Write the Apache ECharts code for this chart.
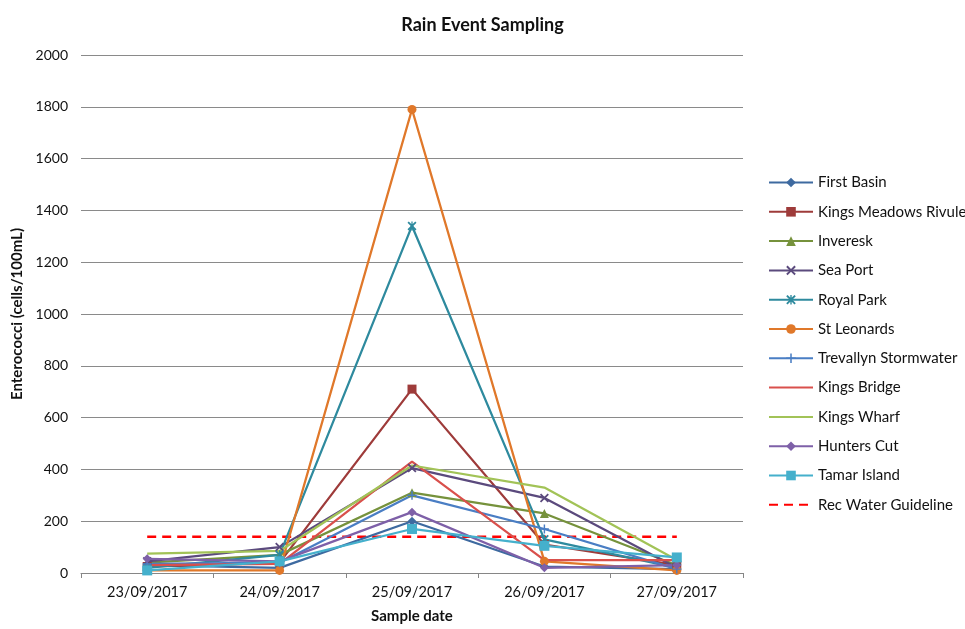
<!DOCTYPE html>
<html>
<head>
<meta charset="utf-8">
<script src="https://cdn.jsdelivr.net/npm/echarts@6/dist/echarts.min.js"></script>
<style>
  html, body { margin: 0; padding: 0; background: #fff; }
  #chart { width: 965px; height: 629px; }
</style>
</head>
<body>
<div id="chart"></div>
<script>
// Sampling dates
const dates = ['23/09/2017', '24/09/2017', '25/09/2017', '26/09/2017', '27/09/2017'];

// Enterococci counts (cells/100mL) per site
const firstBasin        = [30, 20, 200, 25, 15];
const kingsMeadows      = [25, 40, 710, 110, 30];
const inveresk          = [40, 70, 310, 230, 30];
const seaPort           = [45, 100, 405, 290, 20];
const royalPark         = [20, 70, 1340, 130, 20];
const stLeonards        = [10, 10, 1790, 45, 10];
const trevallyn         = [35, 40, 300, 170, 15];
const kingsBridge       = [30, 35, 430, 50, 50];
const kingsWharf        = [75, 85, 415, 330, 50];
const huntersCut        = [55, 45, 235, 20, 30];
const tamarIsland       = [10, 45, 170, 105, 60];
const recWaterGuideline = [140, 140, 140, 140, 140];

// Y axis ticks
const yMin = 0, yMax = 2000, yStep = 200;

const FONT = 'Lato, "Open Sans", sans-serif';

const xSym = 'path://M0,1.4 L1.4,0 L5,3.6 L8.6,0 L10,1.4 L6.4,5 L10,8.6 L8.6,10 L5,6.4 L1.4,10 L0,8.6 L3.6,5 Z';
const plusSym = 'path://M4.2,0 H5.8 V4.2 H10 V5.8 H5.8 V10 H4.2 V5.8 H0 V4.2 H4.2 Z';
const starSym = 'path://M0,1.4 L1.4,0 L5,3.6 L8.6,0 L10,1.4 L6.4,5 L10,8.6 L8.6,10 L5,6.4 L1.4,10 L0,8.6 L3.6,5 Z M4.3,0 H5.7 V10 H4.3 Z';

function site(name, data, color, symbol, size) {
  return {
    name: name,
    type: 'line',
    data: data,
    symbol: symbol,
    symbolSize: size,
    showSymbol: symbol !== 'none',
    lineStyle: { color: color, width: 2.25 },
    itemStyle: { color: color },
    emphasis: { disabled: true },
    z: 3
  };
}

const series = [
  site('First Basin', firstBasin, '#3E6AA0', 'diamond', 9),
  site('Kings Meadows Rivulet', kingsMeadows, '#9E3B3A', 'rect', 9),
  site('Inveresk', inveresk, '#76923C', 'triangle', 9),
  site('Sea Port', seaPort, '#5B4A7D', xSym, 9),
  site('Royal Park', royalPark, '#2E8A9E', starSym, 9),
  site('St Leonards', stLeonards, '#E0782A', 'circle', 9),
  site('Trevallyn Stormwater', trevallyn, '#4A7EC4', plusSym, 9),
  site('Kings Bridge', kingsBridge, '#D9504C', 'none', 0),
  site('Kings Wharf', kingsWharf, '#A2C357', 'none', 0),
  site('Hunters Cut', huntersCut, '#7E60A8', 'diamond', 9),
  site('Tamar Island', tamarIsland, '#45B0CC', 'rect', 10),
  {
    name: 'Rec Water Guideline',
    type: 'line',
    data: recWaterGuideline,
    symbol: 'none',
    showSymbol: false,
    lineStyle: { color: '#FF0000', width: 2.5, type: [9, 6] },
    itemStyle: { color: '#FF0000' },
    emphasis: { disabled: true },
    z: 2
  }
];

// Legend entries: lines without markers get a line-only key
const legendData = series.map(s => (
  s.symbol === 'none'
    ? { name: s.name, itemStyle: { opacity: 0 } }
    : { name: s.name }
));

const chart = echarts.init(document.getElementById('chart'));
chart.setOption({
  animation: false,
  backgroundColor: '#ffffff',
  textStyle: { fontFamily: FONT },
  title: {
    text: 'Rain Event Sampling',
    left: 'center',
    top: 11,
    textStyle: { fontFamily: FONT, fontSize: 18, fontWeight: 'bold', color: '#111' }
  },
  legend: {
    orient: 'vertical',
    left: 768,
    top: 175,
    padding: 0,
    itemWidth: 44,
    itemHeight: 12,
    itemGap: 14.3,
    textStyle: { fontFamily: FONT, fontSize: 15, color: '#111' },
    data: legendData
  },
  grid: { left: 81, right: 222, top: 55, bottom: 52 },
  xAxis: {
    type: 'category',
    data: dates,
    boundaryGap: true,
    name: 'Sample date',
    nameLocation: 'middle',
    nameGap: 36,
    nameTextStyle: { fontFamily: FONT, fontSize: 15, fontWeight: 'bold', color: '#111' },
    axisLine: { lineStyle: { color: '#868686', width: 1 } },
    axisTick: { show: true, length: 5, lineStyle: { color: '#868686' } },
    axisLabel: { fontFamily: FONT, fontSize: 14.5, color: '#111', margin: 12 },
    splitLine: { show: false }
  },
  yAxis: {
    type: 'value',
    min: yMin,
    max: yMax,
    interval: yStep,
    name: 'Enterococci (cells/100mL)',
    nameLocation: 'middle',
    nameRotate: 90,
    nameGap: 52,
    nameTextStyle: { fontFamily: FONT, fontSize: 15, fontWeight: 'bold', color: '#111' },
    axisLine: { show: false },
    axisTick: { show: false },
    axisLabel: {
      fontFamily: FONT, fontSize: 14, color: '#111', margin: 13,
      formatter: v => String(v)
    },
    splitLine: { show: true, lineStyle: { color: '#8a8a8a', width: 1 } }
  },
  series: series
});
</script>
</body>
</html>
